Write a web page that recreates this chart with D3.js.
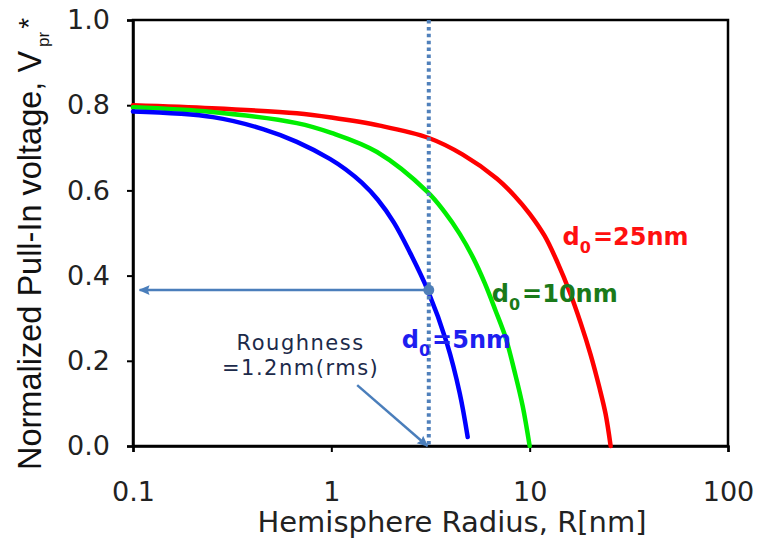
<!DOCTYPE html>
<html>
<head>
<meta charset="utf-8">
<script src="https://cdn.jsdelivr.net/npm/d3@7/dist/d3.min.js"></script>
<style>
  body { margin: 0; background: #fff; }
  svg { display: block; }
</style>
</head>
<body>
<div id="chart"></div>
<script>
// data: hemisphere radius R [nm] vs normalized pull-in voltage
var radius25 = [0.1, 0.25, 0.67, 1.0, 1.755, 3.1, 4.6, 6.82, 8.4, 10.0, 11.9, 13.84, 15.9, 18.07, 20.3, 22.5, 24.15, 25.6];
var volt25   = [0.80, 0.793, 0.781, 0.771, 0.752, 0.723, 0.684, 0.628, 0.587, 0.545, 0.493, 0.430, 0.362, 0.289, 0.214, 0.136, 0.075, 0.0];

var radius10 = [0.1, 0.25, 0.67, 1.0, 1.7, 3.06, 3.73, 4.44, 5.16, 5.93, 6.74, 7.57, 8.4, 9.22, 10.0];
var volt10   = [0.795, 0.784, 0.758, 0.735, 0.69, 0.596, 0.549, 0.498, 0.444, 0.383, 0.317, 0.254, 0.174, 0.094, 0.0];

var radius5 = [0.1, 0.253, 0.452, 0.67, 0.983, 1.183, 1.424, 1.715, 2.065, 2.486, 3.06, 3.82, 4.44, 4.87];
var volt5   = [0.785, 0.772, 0.744, 0.714, 0.674, 0.649, 0.618, 0.578, 0.525, 0.455, 0.366, 0.242, 0.124, 0.021];

var seriesNames = ["d0=25nm", "d0=10nm", "d0=5nm"];
var xTicks = [0.1, 1, 10, 100];
var yTicks = [0, 0.2, 0.4, 0.6, 0.8, 1.0];

var roughnessR = 3.1;      // where the dotted line sits
var markerV = 0.366;       // pull-in voltage read at the roughness line
var arrowEndR = 0.108;
var diagFrom = [1.35, 0.143];
var diagTo = [3.05, 0.0];
var labelPos = [[14.66, 0.472], [6.44, 0.338], [2.265, 0.230]];
var noteR = 0.70, noteV1 = 0.2254, noteV2 = 0.1667;

var W = 760, H = 545;
var svg = d3.select("#chart").append("svg")
    .attr("width", W)
    .attr("height", H);

svg.append("rect").attr("width", W).attr("height", H).attr("fill", "#fff");

var x = d3.scaleLog().domain([0.1, 100]).range([133, 728]);
var y = d3.scaleLinear().domain([0, 1]).range([446, 20]);

var defs = svg.append("defs");
defs.append("marker")
    .attr("id", "head")
    .attr("viewBox", "0 0 10 10")
    .attr("refX", 9).attr("refY", 5)
    .attr("markerWidth", 4.4).attr("markerHeight", 4.4)
    .attr("markerUnits", "strokeWidth")
    .attr("orient", "auto")
  .append("path")
    .attr("d", "M0,0.5 L10,5 L0,9.5 L1.5,5 Z")
    .attr("fill", "#4a7ebb");

// frame
svg.append("rect")
    .attr("x", x(0.1)).attr("y", y(1))
    .attr("width", x(100) - x(0.1))
    .attr("height", y(0) - y(1))
    .attr("fill", "none")
    .attr("stroke", "#000")
    .attr("stroke-width", 2.5);

// axes
var xAxis = svg.append("g")
    .attr("transform", "translate(0," + y(0) + ")")
    .call(d3.axisBottom(x).tickValues(xTicks).tickFormat(function(d){ return String(d); })
        .tickSize(6).tickPadding(30));
var yAxis = svg.append("g")
    .attr("transform", "translate(" + x(0.1) + ",0)")
    .call(d3.axisLeft(y).tickValues(yTicks).tickFormat(d3.format(".1f"))
        .tickSize(6).tickPadding(17));

[xAxis, yAxis].forEach(function(g){
    g.select(".domain").attr("stroke", "#000").attr("stroke-width", 2.5);
    g.selectAll(".tick line").attr("stroke", "#000").attr("stroke-width", 2);
    g.selectAll(".tick text")
        .attr("fill", "#222")
        .style("font-family", "'DejaVu Sans', Verdana, sans-serif")
        .style("font-size", "27px");
});

// curves
var curves = [
    {r: radius25, v: volt25, color: "#ff0000"},
    {r: radius10, v: volt10, color: "#00ee00"},
    {r: radius5,  v: volt5,  color: "#0000ff"}
];
var line = d3.line()
    .x(function(d){ return x(d[0]); })
    .y(function(d){ return y(d[1]); })
    .curve(d3.curveCatmullRom.alpha(0.5));

curves.forEach(function(c){
    var pts = c.r.map(function(r, i){ return [r, c.v[i]]; });
    svg.append("path")
        .datum(pts)
        .attr("d", line)
        .attr("fill", "none")
        .attr("stroke", c.color)
        .attr("stroke-width", 4.5)
        .attr("stroke-linecap", "round");
});

// roughness annotation
svg.append("line")
    .attr("x1", x(roughnessR)).attr("x2", x(roughnessR))
    .attr("y1", y(1)).attr("y2", y(0))
    .attr("stroke", "#5080bb")
    .attr("stroke-width", 4)
    .attr("stroke-dasharray", "3.5,3.4");

svg.append("line")
    .attr("x1", x(roughnessR)).attr("y1", y(markerV))
    .attr("x2", x(arrowEndR)).attr("y2", y(markerV))
    .attr("stroke", "#4a7ebb")
    .attr("stroke-width", 2.5)
    .attr("marker-end", "url(#head)");

svg.append("circle")
    .attr("cx", x(roughnessR)).attr("cy", y(markerV))
    .attr("r", 5.5)
    .attr("fill", "#4f7fb8");

svg.append("line")
    .attr("x1", x(diagFrom[0])).attr("y1", y(diagFrom[1]))
    .attr("x2", x(diagTo[0])).attr("y2", y(diagTo[1]))
    .attr("stroke", "#4a7ebb")
    .attr("stroke-width", 2.5)
    .attr("marker-end", "url(#head)");

var note = svg.append("g")
    .attr("fill", "#1c2a4a")
    .style("font-family", "'DejaVu Sans', Verdana, sans-serif")
    .style("font-size", "21px")
    .style("letter-spacing", "1.5px")
    .attr("text-anchor", "middle");
note.append("text").attr("x", x(noteR)).attr("y", y(noteV1)).text("Roughness");
note.append("text").attr("x", x(noteR)).attr("y", y(noteV2)).text("=1.2nm(rms)");

// series labels
var labelColors = ["#ff1010", "#1a7a1a", "#1e1ef0"];
seriesNames.forEach(function(name, i){
    var t = svg.append("text")
        .attr("x", x(labelPos[i][0]))
        .attr("y", y(labelPos[i][1]))
        .attr("fill", labelColors[i])
        .style("font-family", "'DejaVu Sans', Verdana, sans-serif")
        .style("font-weight", "bold")
        .style("font-size", "24px");
    t.append("tspan").text("d");
    t.append("tspan").attr("dy", 8).style("font-size", "16px").text("0");
    t.append("tspan").attr("dy", -8).attr("dx", 2).text(name.slice(2));
});

// axis titles
svg.append("text")
    .attr("x", 452)
    .attr("y", 532)
    .attr("text-anchor", "middle")
    .attr("fill", "#222")
    .style("font-family", "'DejaVu Sans', Verdana, sans-serif")
    .style("font-size", "29px")
    .text("Hemisphere Radius, R[nm]");

var yt = svg.append("text")
    .attr("transform", "translate(41,470) rotate(-90)")
    .attr("fill", "#111")
    .style("font-family", "'Liberation Sans', Arial, sans-serif")
    .style("font-size", "32.5px");
yt.append("tspan").text("Normalized Pull-In voltage, V");
yt.append("tspan").attr("dx", 4).attr("dy", 8).style("font-size", "17px").text("pr");
yt.append("tspan").attr("dx", 3).attr("dy", -11).style("font-size", "28px").text("*");
</script>
</body>
</html>
